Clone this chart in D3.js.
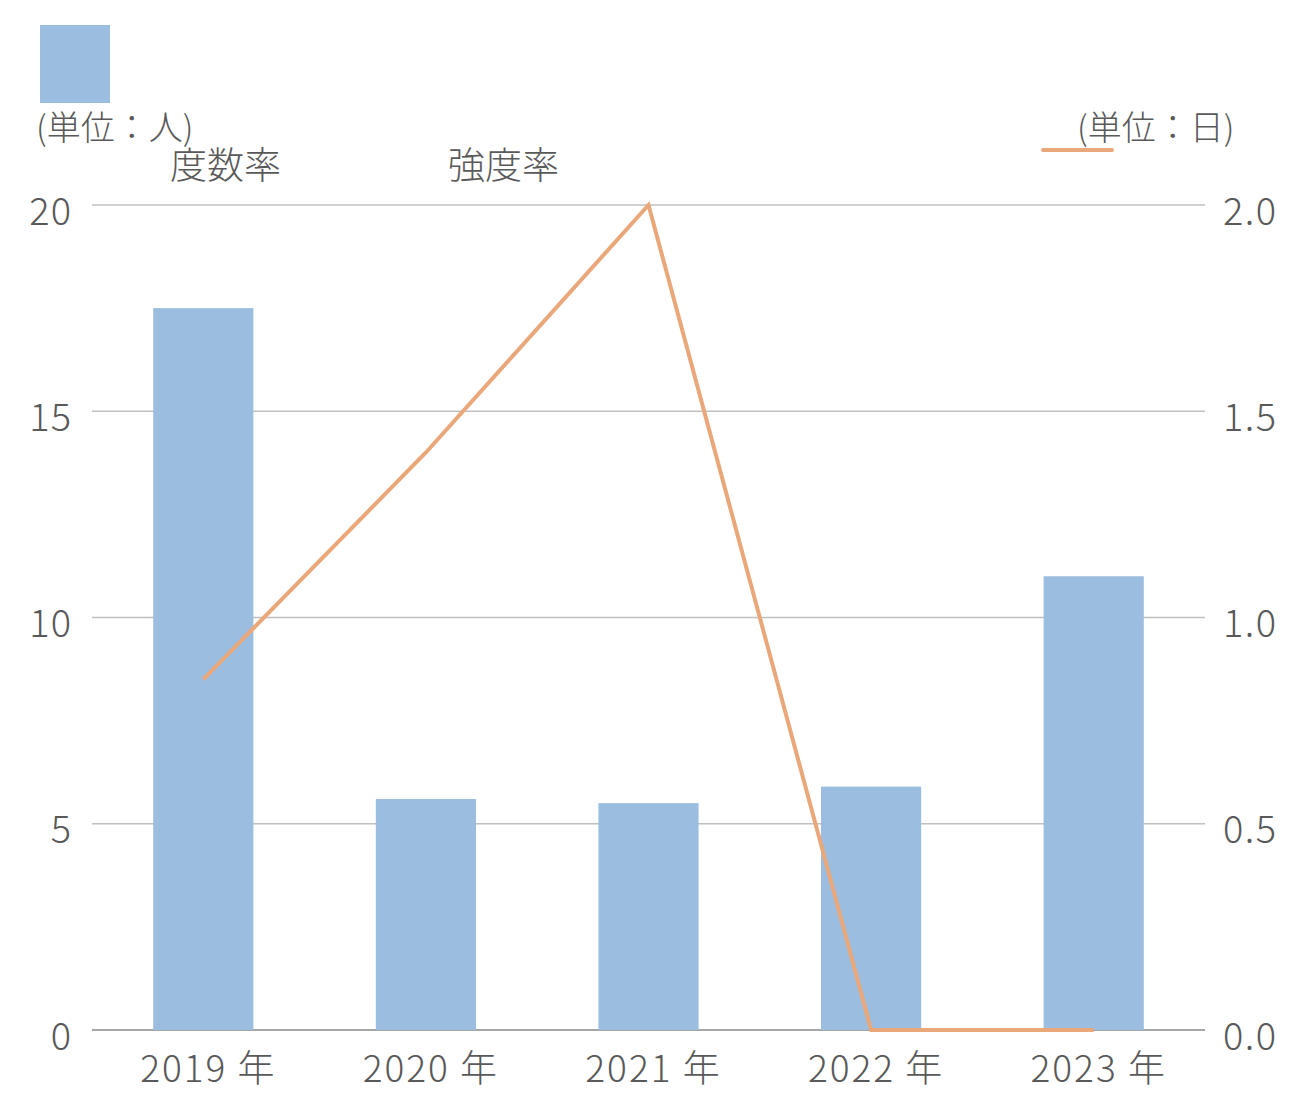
<!DOCTYPE html>
<html>
<head>
<meta charset="utf-8">
<script src="https://cdn.jsdelivr.net/npm/d3@7"></script>
<style>
  body { margin: 0; background: #fff; }
  svg text { font-family: "Noto Sans CJK JP", "Noto Sans", sans-serif; font-weight: 300; fill: #595959; }
</style>
</head>
<body>
<svg id="chart"></svg>
<script>
const years = ['2019 年', '2020 年', '2021 年', '2022 年', '2023 年'];
const frequencyRate = [17.5, 5.6, 5.5, 5.9, 11.0];
const severityRate = [0.85, 1.4, 2.0, 0, 0];
const leftTicks = [0, 5, 10, 15, 20];
const rightTicks = [0, 0.5, 1.0, 1.5, 2.0];

const width = 1312;
const height = 1117;
const margin = { top: 205, right: 107, bottom: 87, left: 92 };

const svg = d3.select('#chart').attr('width', width).attr('height', height);

const xScale = d3
  .scaleBand()
  .domain(years)
  .range([margin.left, width - margin.right])
  .paddingInner(0.55)
  .paddingOuter(0.275);

const yLeft = d3.scaleLinear().domain([0, 20]).range([height - margin.bottom, margin.top]);
const yRight = d3.scaleLinear().domain([0, 2]).range([height - margin.bottom, margin.top]);

// gridlines
svg
  .append('g')
  .selectAll('line')
  .data(leftTicks)
  .join('line')
  .attr('x1', margin.left)
  .attr('x2', width - margin.right)
  .attr('y1', (d) => yLeft(d))
  .attr('y2', (d) => yLeft(d))
  .attr('stroke', (d) => (d === 0 ? '#a6a6a6' : '#c0c0c0'))
  .attr('stroke-width', (d) => (d === 0 ? 2 : 1.3));

// bars
svg
  .append('g')
  .selectAll('rect')
  .data(frequencyRate)
  .join('rect')
  .attr('x', (d, i) => xScale(years[i]))
  .attr('y', (d) => yLeft(d))
  .attr('width', xScale.bandwidth())
  .attr('height', (d) => yLeft(0) - yLeft(d))
  .attr('fill', '#9bbde0');

// line
const line = d3
  .line()
  .x((d, i) => xScale(years[i]) + xScale.bandwidth() / 2)
  .y((d) => yRight(d));

svg
  .append('path')
  .datum(severityRate)
  .attr('d', line)
  .attr('fill', 'none')
  .attr('stroke', '#eaa87a')
  .attr('stroke-width', 4);

// axes
const leftAxis = svg
  .append('g')
  .attr('transform', `translate(${margin.left - 17},0)`)
  .call(d3.axisLeft(yLeft).tickValues(leftTicks).tickSize(0).tickFormat(d3.format('d')));
leftAxis.select('.domain').remove();
leftAxis
  .selectAll('text')
  .attr('font-size', 38)
  .attr('letter-spacing', 1)
  .attr('dy', '0.5em')
  .attr('fill', '#595959');

const rightAxis = svg
  .append('g')
  .attr('transform', `translate(${width - margin.right + 15},0)`)
  .call(d3.axisRight(yRight).tickValues(rightTicks).tickSize(0).tickFormat(d3.format('.1f')));
rightAxis.select('.domain').remove();
rightAxis
  .selectAll('text')
  .attr('font-size', 38)
  .attr('letter-spacing', 1.5)
  .attr('dy', '0.5em')
  .attr('fill', '#595959');

const bottomAxis = svg
  .append('g')
  .attr('transform', `translate(5,${height - margin.bottom})`)
  .call(d3.axisBottom(xScale).tickSize(0));
bottomAxis.select('.domain').remove();
bottomAxis
  .selectAll('text')
  .attr('font-size', 37)
  .attr('letter-spacing', 2)
  .attr('dy', '1.32em')
  .attr('fill', '#595959');

// legend
svg.append('rect').attr('x', 40).attr('y', 25).attr('width', 70).attr('height', 78).attr('fill', '#9bbde0');
svg.append('text').attr('x', 36).attr('y', 140).attr('font-size', 34).text('(単位：人)');
svg.append('text').attr('x', 170).attr('y', 179).attr('font-size', 37).text('度数率');
svg.append('text').attr('x', 448).attr('y', 179).attr('font-size', 37).text('強度率');

svg
  .append('line')
  .attr('x1', 1043)
  .attr('x2', 1112)
  .attr('y1', 150)
  .attr('y2', 150)
  .attr('stroke', '#eaa87a')
  .attr('stroke-width', 4)
  .attr('stroke-linecap', 'round');
svg.append('text').attr('x', 1077).attr('y', 140).attr('font-size', 34).text('(単位：日)');
</script>
</body>
</html>
